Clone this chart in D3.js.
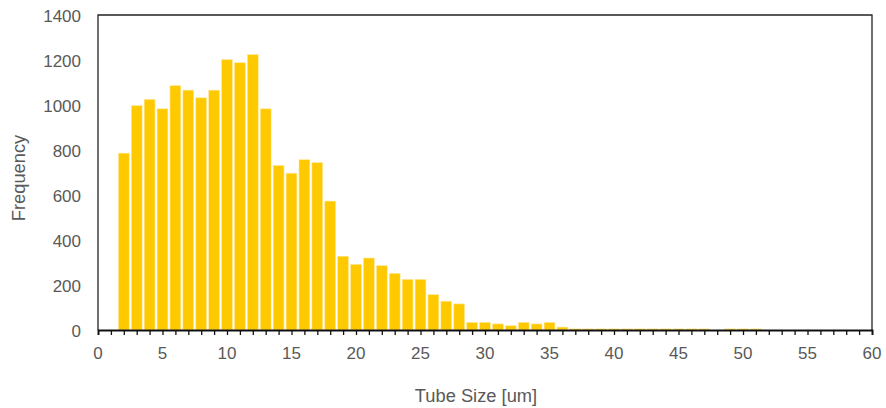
<!DOCTYPE html>
<html>
<head>
<meta charset="utf-8">
<script src="https://cdn.jsdelivr.net/npm/d3@7"></script>
<style>
  body { margin: 0; background: #fff; }
  svg { display: block; font-family: "Liberation Sans", Arial, sans-serif; }
</style>
</head>
<body>
<div id="chart"></div>
<script>
// tube size bins (um) and their counts
var sizes = [2, 3, 4, 5, 6, 7, 8, 9, 10, 11, 12, 13, 14, 15, 16, 17, 18, 19, 20,
    21, 22, 23, 24, 25, 26, 27, 28, 29, 30, 31, 32, 33, 34, 35, 36, 37, 38, 39,
    40, 41, 42, 43, 44, 45, 46, 47, 49, 50, 51];
var counts = [786, 997, 1025, 983, 1086, 1066, 1032, 1066, 1202, 1188, 1224, 983,
    731, 697, 757, 744, 573, 328, 292, 320, 286, 252, 225, 225, 157, 128, 116,
    34, 34, 27, 19, 34, 27, 34, 13, 5, 5, 5, 5, 5, 5, 5, 5, 5, 5, 5, 5, 5, 5];
var xTicks = [0, 5, 10, 15, 20, 25, 30, 35, 40, 45, 50, 55, 60];
var yTicks = [0, 200, 400, 600, 800, 1000, 1200, 1400];

var W = 886, H = 408;
var margin = { left: 98, right: 14, top: 15, bottom: 78 };
var iw = W - margin.left - margin.right,
    ih = H - margin.top - margin.bottom;

var svg = d3.select("#chart").append("svg")
    .attr("width", W)
    .attr("height", H);

var x = d3.scaleLinear().domain([0, 60]).range([0, iw]);
var y = d3.scaleLinear().domain([0, 1400]).range([ih, 0]);

var g = svg.append("g")
    .attr("transform", "translate(" + margin.left + "," + margin.top + ")");

var data = sizes.map((s, i) => ({ size: s, count: counts[i] }));
var bw = (x(1) - x(0)) * 0.84;

g.selectAll("rect.bar")
    .data(data)
    .enter()
    .append("rect")
    .attr("class", "bar")
    .attr("x", (d) => x(d.size) - bw / 2)
    .attr("y", (d) => y(d.count))
    .attr("width", bw)
    .attr("height", (d) => ih - y(d.count))
    .attr("fill", "#FFC900")
    .attr("stroke", "#FFE9A0")
    .attr("stroke-width", 0.6);

// frame on top and right
g.append("path")
    .attr("d", "M0," + ih + "V0H" + iw + "V" + ih)
    .attr("fill", "none")
    .attr("stroke", "#222")
    .attr("stroke-width", 1.3);

// minor ticks every 1 um
var xAxis = d3.axisBottom(x)
    .tickValues(d3.range(0, 61, 1))
    .tickSize(5)
    .tickFormat("");
var xg = g.append("g")
    .attr("transform", "translate(0," + ih + ")")
    .call(xAxis);
xg.select(".domain").attr("stroke", "#111").attr("stroke-width", 1.8);
xg.selectAll(".tick line").attr("stroke", "#111").attr("stroke-width", 1.3);

g.selectAll("text.xlab")
    .data(xTicks)
    .enter()
    .append("text")
    .attr("class", "xlab")
    .attr("x", (d) => x(d))
    .attr("y", ih + 29)
    .attr("text-anchor", "middle")
    .attr("fill", "#595959")
    .style("font-size", "17px")
    .text((d) => d);

g.selectAll("text.ylab")
    .data(yTicks)
    .enter()
    .append("text")
    .attr("class", "ylab")
    .attr("x", -17)
    .attr("y", (d) => y(d) + 7)
    .attr("text-anchor", "end")
    .attr("fill", "#595959")
    .style("font-size", "17px")
    .text((d) => d);

svg.append("text")
    .attr("x", 476)
    .attr("y", 402)
    .attr("text-anchor", "middle")
    .attr("fill", "#595959")
    .style("font-size", "18.3px")
    .text("Tube Size [um]");

svg.append("text")
    .attr("transform", "translate(25,178) rotate(-90)")
    .attr("text-anchor", "middle")
    .attr("fill", "#595959")
    .style("font-size", "18.3px")
    .text("Frequency");
</script>
</body>
</html>
